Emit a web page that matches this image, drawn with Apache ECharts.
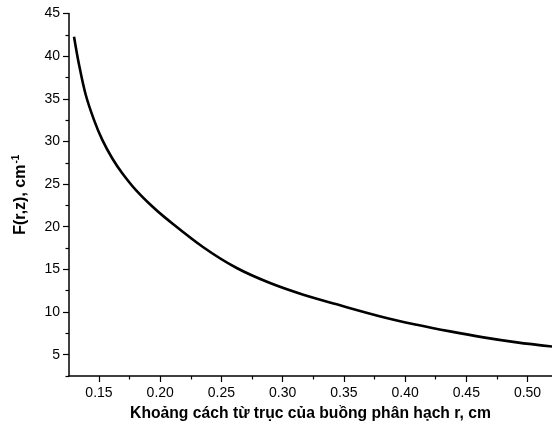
<!DOCTYPE html>
<html>
<head>
<meta charset="utf-8">
<script src="https://cdn.jsdelivr.net/npm/echarts@6/dist/echarts.min.js"></script>
<style>
  html, body { margin: 0; padding: 0; background: #fff; }
  #chart { width: 552px; height: 427px; }
</style>
</head>
<body>
<div id="chart"></div>
<script>
// khoảng cách r (cm) và F(r,z) (cm^-1)
const rValues = [0.1296, 0.1337, 0.1391, 0.1459, 0.1527, 0.1609, 0.1690, 0.1800, 0.1936, 0.2045, 0.2352, 0.2625, 0.2897, 0.3169, 0.3442, 0.3823, 0.4096, 0.4368, 0.4640, 0.4913, 0.5200]
const fValues = [42.28, 39.0, 35.5, 32.53, 30.18, 28.0, 26.28, 24.33, 22.37, 21.01, 17.6, 15.16, 13.4, 12.03, 10.9, 9.4, 8.51, 7.73, 7.03, 6.44, 5.95]
const xMajorTicks = [0.15, 0.20, 0.25, 0.30, 0.35, 0.40, 0.45, 0.50]
const xMinorTicks = [0.125, 0.175, 0.225, 0.275, 0.325, 0.375, 0.425, 0.475]
const yMajorTicks = [5, 10, 15, 20, 25, 30, 35, 40, 45]
const yMinorTicks = [2.5, 7.5, 12.5, 17.5, 22.5, 27.5, 32.5, 37.5, 42.5]

const font = 'Liberation Sans, Arial, sans-serif'
const xRange = { min: 0.1255, max: 0.52 }
const yRange = { min: 2.5, max: 45 }

const chart = echarts.init(document.getElementById('chart'))
chart.setOption({
    animation: false,
    grid: { left: 69, right: 0, top: 13.5, bottom: 50.3 },
    xAxis: [{
        type: 'value',
        min: xRange.min,
        max: xRange.max,
        name: 'Khoảng cách từ trục của buồng phân hạch r, cm',
        nameLocation: 'middle',
        nameGap: 30,
        nameTextStyle: { fontFamily: font, fontWeight: 'bold', fontSize: 15.7, color: '#000' },
        axisLine: { lineStyle: { color: '#000', width: 1.5 } },
        axisTick: { customValues: xMajorTicks, length: 6, lineStyle: { color: '#000', width: 1.2 } },
        axisLabel: {
            customValues: xMajorTicks,
            margin: 10,
            fontFamily: font,
            fontSize: 14,
            color: '#000',
            formatter: v => v.toFixed(2)
        },
        splitLine: { show: false }
    }, {
        type: 'value',
        position: 'bottom',
        min: xRange.min,
        max: xRange.max,
        axisLine: { show: false },
        axisTick: { customValues: xMinorTicks, length: 3.5, lineStyle: { color: '#000', width: 1.2 } },
        axisLabel: { show: false },
        splitLine: { show: false }
    }],
    yAxis: [{
        type: 'value',
        min: yRange.min,
        max: yRange.max,
        name: '{a|F(r,z), cm}{b|-1}',
        nameLocation: 'middle',
        nameGap: 39,
        nameTextStyle: {
            rich: {
                a: { fontFamily: font, fontWeight: 'bold', fontSize: 16, color: '#000' },
                b: { fontFamily: font, fontWeight: 'bold', fontSize: 10, color: '#000', verticalAlign: 'top', padding: [0, 0, 9, 1] }
            }
        },
        axisLine: { show: true, lineStyle: { color: '#000', width: 1.5 } },
        axisTick: { show: true, customValues: yMajorTicks, length: 6, lineStyle: { color: '#000', width: 1.2 } },
        axisLabel: {
            customValues: yMajorTicks,
            margin: 9,
            fontFamily: font,
            fontSize: 14,
            color: '#000'
        },
        splitLine: { show: false }
    }, {
        type: 'value',
        position: 'left',
        min: yRange.min,
        max: yRange.max,
        axisLine: { show: false },
        axisTick: { show: true, customValues: yMinorTicks, length: 3.5, lineStyle: { color: '#000', width: 1.2 } },
        axisLabel: { show: false },
        splitLine: { show: false }
    }],
    series: [{
        type: 'line',
        data: rValues.map((r, i) => [r, fValues[i]]),
        smooth: 0.35,
        showSymbol: false,
        lineStyle: { color: '#000', width: 2.6 }
    }]
})
</script>
</body>
</html>
